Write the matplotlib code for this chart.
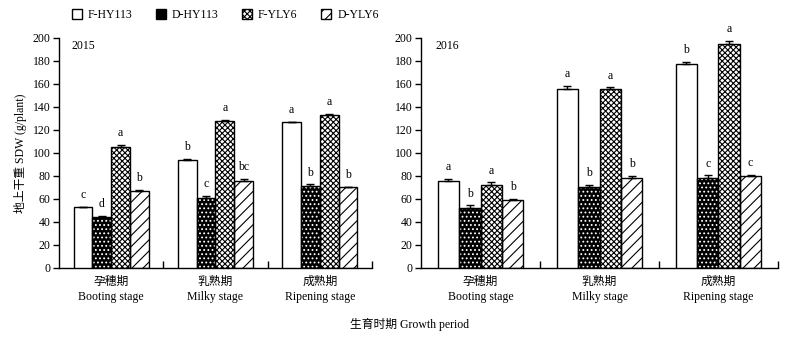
import matplotlib
matplotlib.use("Agg")
import matplotlib.pyplot as plt
import numpy as np
from matplotlib.patches import Patch

plt.rcParams["font.family"] = ["Liberation Serif", "Noto Sans CJK SC"]
plt.rcParams["font.size"] = 8.5
plt.rcParams["hatch.linewidth"] = 0.8

series = ["F-HY113", "D-HY113", "F-YLY6", "D-YLY6"]
stages = ["孕穗期\nBooting stage", "乳熟期\nMilky stage", "成熟期\nRipening stage"]

# rows = series, columns = stages
sdw_2015 = [
    [53, 94, 127],
    [44, 61, 71],
    [105, 128, 133],
    [67, 76, 70],
]
err_2015 = [
    [0.3, 0.8, 0.3],
    [1.0, 1.8, 1.8],
    [1.8, 0.8, 0.8],
    [0.8, 1.8, 0.3],
]
letters_2015 = [
    ["c", "b", "a"],
    ["d", "c", "b"],
    ["a", "a", "a"],
    ["b", "bc", "b"],
]

sdw_2016 = [
    [76, 156, 177],
    [52, 70, 78],
    [72, 156, 195],
    [59, 78, 80],
]
err_2016 = [
    [1.7, 2.5, 2.5],
    [2.5, 2.5, 2.5],
    [2.5, 1.0, 2.5],
    [1.0, 2.0, 1.0],
]
letters_2016 = [
    ["a", "a", "b"],
    ["b", "b", "c"],
    ["a", "a", "a"],
    ["b", "b", "c"],
]

# (face, hatch, hatch colour)
styles = [
    ("white", None, None),
    ("black", "....", "white"),
    ("white", "xxxxxx", "black"),
    ("white", "///", "black"),
]


def draw_panel(ax, values, errors, letters, year):
    x = np.arange(len(stages))
    width = 0.18
    offsets = (np.arange(len(series)) - 1.5) * width
    for i, name in enumerate(series):
        face, hatch, hcol = styles[i]
        pos = x + offsets[i]
        vals = np.array(values[i], dtype=float)
        errs = np.array(errors[i], dtype=float)
        if hatch:
            ax.bar(pos, vals, width, color=face, edgecolor=hcol, hatch=hatch,
                   linewidth=0, zorder=2)
            ax.bar(pos, vals, width, fill=False, edgecolor="black",
                   linewidth=1.0, zorder=3)
        else:
            ax.bar(pos, vals, width, color=face, edgecolor="black",
                   linewidth=1.0, zorder=3)
        ax.errorbar(pos, vals, yerr=[np.zeros_like(errs), errs], fmt="none",
                    ecolor="black", elinewidth=1.0, capsize=3, capthick=1.0,
                    zorder=4)
        for px, v, e, lab in zip(pos, vals, errs, letters[i]):
            ax.text(px, v + e + 5, lab, ha="center", va="bottom", fontsize=8.5)

    ax.set_xlim(-0.5, 2.5)
    ax.set_ylim(0, 200)
    ax.set_yticks(range(0, 201, 20))
    ax.set_xticks(x)
    ax.set_xticklabels(stages, linespacing=1.3)
    ax.set_xticks([0.5, 1.5, 2.5], minor=True)
    ax.tick_params(axis="x", which="major", length=0, pad=6)
    ax.tick_params(axis="x", which="minor", direction="in", length=5, width=1)
    ax.tick_params(axis="y", direction="out", length=4, width=1, pad=2)
    for s in ("top", "right"):
        ax.spines[s].set_visible(False)
    for s in ("left", "bottom"):
        ax.spines[s].set_linewidth(1.0)
    ax.text(0.04, 0.99, year, transform=ax.transAxes, ha="left", va="top",
            fontsize=8.5)


fig = plt.figure(figsize=(7.95, 3.42), dpi=100)
ax1 = fig.add_axes([0.0742, 0.2164, 0.3937, 0.6725])
ax2 = fig.add_axes([0.5296, 0.2164, 0.4490, 0.6725])

draw_panel(ax1, sdw_2015, err_2015, letters_2015, "2015")
draw_panel(ax2, sdw_2016, err_2016, letters_2016, "2016")

ax1.set_ylabel("地上干重 SDW (g/plant)", fontsize=8.5, labelpad=4)

handles = []
for i, name in enumerate(series):
    face, hatch, hcol = styles[i]
    if i == 1:
        handles.append(Patch(facecolor="black", edgecolor="black", hatch=None, label=name))
    else:
        handles.append(Patch(facecolor=face, edgecolor="black", hatch=hatch, label=name))
fig.legend(handles=handles, loc="center left", bbox_to_anchor=(0.087, 0.956),
           ncol=4, frameon=False, fontsize=8.5, handlelength=0.85,
           handleheight=0.85, columnspacing=2.0, handletextpad=0.5,
           borderpad=0.2, borderaxespad=0)

fig.text(0.515, 0.052, "生育时期 Growth period", ha="center", va="center",
         fontsize=8.5)

fig.savefig("out.png", dpi=100)
